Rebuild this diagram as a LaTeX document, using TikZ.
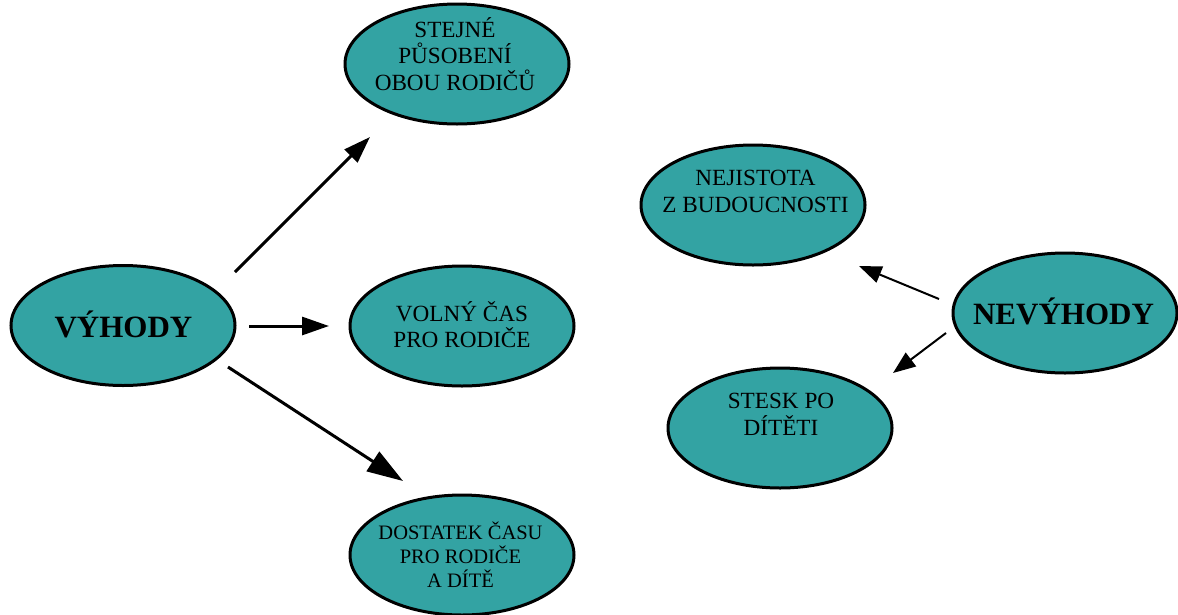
\documentclass[tikz,border=0pt]{standalone}
\usepackage{fontspec}
\setmainfont{Liberation Serif}
\usetikzlibrary{shapes.geometric,arrows.meta}
\definecolor{bubteal}{RGB}{51,163,163}
\newcommand\topstr{\rule{0pt}{23pt}}
\newcommand\botstr{\rule[-7.5pt]{0pt}{7.5pt}}
\newcommand\botstrsmall{\rule[-9.4pt]{0pt}{9.4pt}}
\begin{document}
\begin{tikzpicture}[x=1pt,y=-1pt,
  bubble/.style={ellipse,draw=black,line width=3pt,fill=bubteal,
    minimum width=224pt,minimum height=120pt,inner sep=0pt},
  lbl/.style={align=center,inner sep=0pt,font=\fontsize{23.2}{26.5}\selectfont},
  smalllbl/.style={align=center,inner sep=0pt,font=\fontsize{20.5}{24}\selectfont},
  biglbl/.style={inner sep=0pt,anchor=base,font=\fontsize{31}{36}\selectfont\bfseries},
  bigarrow/.style={line width=3pt,-{Triangle[length=27pt,width=18pt]}},
  hugearrow/.style={line width=3pt,-{Triangle[length=36pt,width=23pt]}},
  thinarrow/.style={line width=2pt,-{Triangle[length=22.5pt,width=17pt]}}
]
\fill[white] (0,0) rectangle (1178,614);
\useasboundingbox (0,0) rectangle (1178,614);

% ellipses
\node[bubble] (vyh) at (123,325.5) {};
\node[bubble] (stej) at (457,64) {};
\node[bubble] (voln) at (462,326) {};
\node[bubble] (dost) at (462,555) {};
\node[bubble] (nej) at (753,205) {};
\node[bubble] (nev) at (1065,313) {};
\node[bubble] (stesk) at (780,428) {};

% labels
\node[biglbl] (vyhT) at (123.5,337) {VÝHODY};
\node[biglbl] (nevT) at (1063.5,324) {NEVÝHODY};
\node[lbl] (stejT) at (455,56) {\topstr STEJNÉ\\PŮSOBENÍ\\OBOU RODIČŮ\botstr};
\node[lbl] (volnT) at (462,326.5) {\topstr VOLNÝ ČAS\\PRO RODIČE\botstr};
\node[smalllbl] (dostT) at (460.5,557) {\topstr DOSTATEK ČASU\\PRO RODIČE\\A DÍTĚ\botstrsmall};
\node[lbl] (nejT) at (755.5,191) {\topstr NEJISTOTA\\Z BUDOUCNOSTI\botstr};
\node[lbl] (steskT) at (781,414) {\topstr STESK PO\\DÍTĚTI\botstr};

% arrow end points
\coordinate (a1s) at (235,272);
\coordinate (a1e) at (370,137);
\coordinate (a2s) at (249,326);
\coordinate (a2e) at (329,326);
\coordinate (a3s) at (228,367);
\coordinate (a3e) at (403,481);
\coordinate (b1s) at (939,299);
\coordinate (b1e) at (859,266);
\coordinate (b2s) at (946,333);
\coordinate (b2e) at (893,373);

\draw[bigarrow] (a1s) -- (a1e);
\draw[bigarrow] (a2s) -- (a2e);
\draw[hugearrow] (a3s) -- (a3e);
\draw[thinarrow] (b1s) -- (b1e);
\draw[thinarrow] (b2s) -- (b2e);
\end{tikzpicture}
\end{document}
